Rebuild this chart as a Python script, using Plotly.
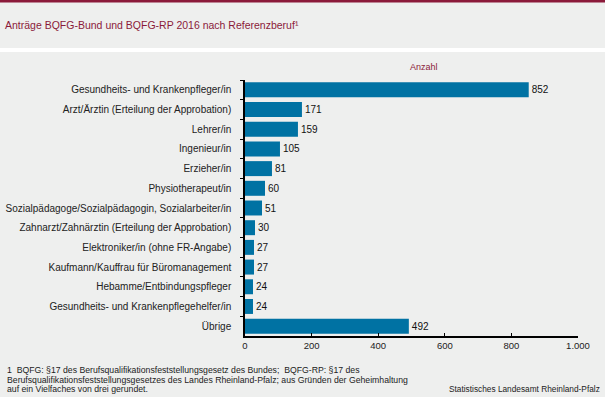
import plotly.graph_objects as go

categories = [
    "Gesundheits- und Krankenpfleger/in",
    "Arzt/Ärztin (Erteilung der Approbation)",
    "Lehrer/in",
    "Ingenieur/in",
    "Erzieher/in",
    "Physiotherapeut/in",
    "Sozialpädagoge/Sozialpädagogin, Sozialarbeiter/in",
    "Zahnarzt/Zahnärztin (Erteilung der Approbation)",
    "Elektroniker/in (ohne FR-Angabe)",
    "Kaufmann/Kauffrau für Büromanagement",
    "Hebamme/Entbindungspfleger",
    "Gesundheits- und Krankenpflegehelfer/in",
    "Übrige",
]
values = [852, 171, 159, 105, 81, 60, 51, 30, 27, 27, 24, 24, 492]
x_ticks = [0, 200, 400, 600, 800, 1000]
x_tick_labels = ["0", "200", "400", "600", "800", "1.000"]
footnote_lines = [
    "1  BQFG: §17 des Berufsqualifikationsfeststellungsgesetz des Bundes;  BQFG-RP: §17 des",
    "Berufsqualifikationsfeststellungsgesetzes des Landes Rheinland-Pfalz; aus Gründen der Geheimhaltung",
    "auf ein Vielfaches von drei gerundet.",
]

W, H = 605, 397
L, R, T, B = 245, 578, 80, 336  # plot area in pixels


def px(xp):
    return (xp - L) / (R - L)


def py(yp):
    return (B - yp) / (B - T)


BG = "#EEEFEE"
MAROON = "#8B1A3A"
BAR = "#0072A3"
FONT = "Liberation Sans, Arial, sans-serif"

fig = go.Figure(
    go.Bar(
        x=values,
        y=categories,
        orientation="h",
        marker=dict(color=BAR, line=dict(width=0)),
        width=0.76,
        text=[str(v) for v in values],
        textposition="outside",
        textfont=dict(size=10, color="#111111", family=FONT),
        cliponaxis=False,
        hoverinfo="skip",
    )
)

annotations = [
    dict(text="Anträge BQFG-Bund und BQFG-RP 2016 nach Referenzberuf¹", xref="paper", yref="paper",
         x=px(3), y=py(25), xanchor="left", yanchor="middle", showarrow=False,
         font=dict(size=10.5, color=MAROON, family=FONT)),
    dict(text="Anzahl", xref="paper", yref="paper", x=px(424), y=py(67), xanchor="center",
         yanchor="middle", showarrow=False, font=dict(size=9, color=MAROON, family=FONT)),
    dict(text="Statistisches Landesamt Rheinland-Pfalz", xref="paper", yref="paper", x=px(602), y=py(389),
         xanchor="right", yanchor="middle", showarrow=False,
         font=dict(size=8.3, color="#222222", family=FONT)),
]
for i, line in enumerate(footnote_lines):
    annotations.append(
        dict(text=line, xref="paper", yref="paper", x=px(5), y=py(370 + 9.5 * i),
             xanchor="left", yanchor="middle", align="left", showarrow=False,
             font=dict(size=8.7, color="#222222", family=FONT))
    )

fig.update_layout(
    width=W,
    height=H,
    margin=dict(l=L, r=W - R, t=T, b=H - B, pad=0, autoexpand=False),
    paper_bgcolor=BG,
    plot_bgcolor=BG,
    separators=",.",
    showlegend=False,
    font=dict(family=FONT, size=9, color="#222222"),
    xaxis=dict(
        range=[0, 1000],
        tickvals=x_ticks,
        ticktext=x_tick_labels,
        ticks="inside",
        ticklen=3,
        tickwidth=1,
        tickcolor="#000000",
        showline=True,
        linecolor="#000000",
        linewidth=1.5,
        showgrid=False,
        zeroline=False,
        automargin=False,
        tickfont=dict(size=9.5, color="#222222"),
        fixedrange=True,
    ),
    yaxis=dict(
        type="category",
        autorange="reversed",
        ticks="outside",
        tickson="boundaries",
        ticklen=3,
        tickwidth=1,
        tickcolor="#000000",
        showline=True,
        linecolor="#000000",
        linewidth=1.5,
        showgrid=False,
        zeroline=False,
        automargin=False,
        ticklabelstandoff=10,
        tickfont=dict(size=10, color="#222222"),
        fixedrange=True,
    ),
    shapes=[
        dict(type="rect", xref="paper", yref="paper", x0=px(0), x1=px(W), y0=py(0), y1=py(2.5),
             fillcolor=MAROON, line=dict(width=0), layer="above"),
        dict(type="rect", xref="paper", yref="paper", x0=px(0), x1=px(W), y0=py(48), y1=py(52),
             fillcolor="#FFFFFF", line=dict(width=0), layer="below"),
    ],
    annotations=annotations,
)

fig.write_html("out.html", config={"displayModeBar": False},
               post_script="document.body.style.margin='0';")
